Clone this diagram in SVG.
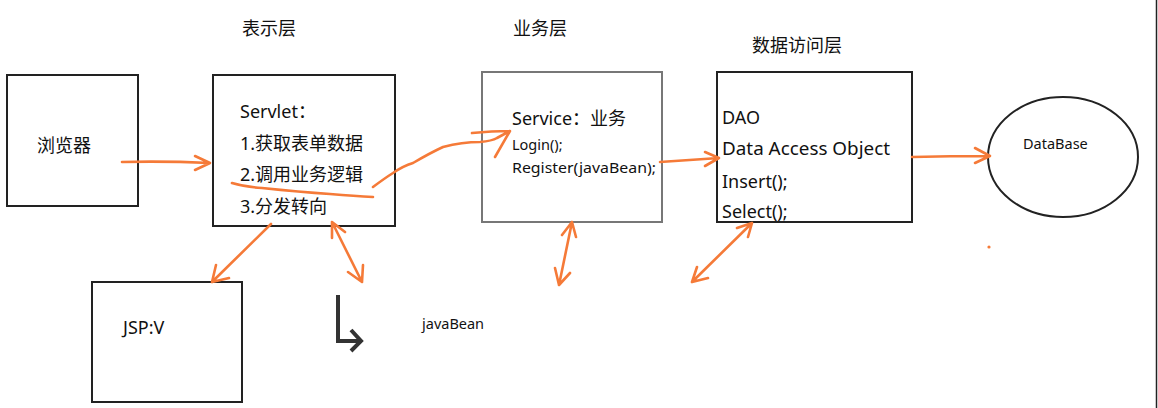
<svg xmlns="http://www.w3.org/2000/svg" width="1158" height="408" viewBox="0 0 1158 408">
<style>
.box{fill:none;stroke:#222;stroke-width:2}
.gbox{fill:none;stroke:#777;stroke-width:2}
.t{font-family:"Noto Sans","Noto Sans CJK SC",sans-serif;fill:#111}
.l{font-size:18px}
.s{font-size:14.5px}
.ink{fill:none;stroke:#F57A38;stroke-width:2.6;stroke-linecap:round;stroke-linejoin:round}
</style>
<rect width="1158" height="408" fill="#fff"/>
<line x1="1156.5" y1="0" x2="1156.5" y2="408" stroke="#222" stroke-width="1.5"/>
<g id="headers">
<text class="t l" x="242" y="35">表示层</text>
<text class="t l" x="513" y="35">业务层</text>
<text class="t l" x="752" y="52">数据访问层</text>
</g>
<g id="browser">
<rect class="box" x="7" y="75" width="131" height="131"/>
<text class="t l" x="37" y="152">浏览器</text>
</g>
<g id="servlet">
<rect class="box" x="213" y="75" width="182" height="151"/>
<text class="t l" x="240" y="118">Servlet：</text>
<text class="t l" x="240" y="150">1.获取表单数据</text>
<text class="t l" x="240" y="181">2.调用业务逻辑</text>
<text class="t l" x="240" y="213">3.分发转向</text>
</g>
<g id="service">
<rect class="gbox" x="482" y="72" width="180" height="150"/>
<text class="t l" x="512" y="125">Service：业务</text>
<text class="t s" x="512" y="150">Login();</text>
<text class="t s" x="512" y="173" textLength="144" lengthAdjust="spacingAndGlyphs">Register(javaBean);</text>
</g>
<g id="dao">
<rect class="box" x="717" y="72" width="195" height="150"/>
<text class="t l" x="722" y="124">DAO</text>
<text class="t l" x="722" y="155" textLength="168" lengthAdjust="spacingAndGlyphs">Data Access Object</text>
<text class="t l" x="722" y="188">Insert();</text>
<text class="t l" x="722" y="218">Select();</text>
</g>
<g id="database">
<ellipse cx="1063" cy="157" rx="75" ry="60" fill="none" stroke="#222" stroke-width="2"/>
<text class="t s" x="1023" y="149">DataBase</text>
</g>
<g id="jsp">
<rect class="box" x="92" y="282" width="150" height="120"/>
<text class="t l" x="123" y="334">JSP:V</text>
</g>
<g id="javabean">
<text class="t s" x="422" y="329">javaBean</text>
<path d="M338 295 V341 H361 M351 330 L361 341 L351 351" fill="none" stroke="#333" stroke-width="4"/>
</g>
<g id="connectors">
<path class="ink" d="M122 162 Q165 161 210 163 M195 156 L210 163 L195 170"/>
<path class="ink" d="M232 183 Q245 187 262 188 Q300 192 330 194 Q355 196 373 197"/>
<path class="ink" d="M373 187 Q385 178 393 173 Q403 166 413 163 Q430 153 443 147 Q462 142 480 142 Q492 141 497 138 L510 131 M472 133 Q492 131 510 131 L495 157"/>
<path class="ink" d="M660 162 Q690 160 719 158 M705 152 L719 158 L705 166"/>
<path class="ink" d="M912 157 Q950 156 990 156 M975 148 L990 156 L975 163"/>
<path class="ink" d="M271 224 L212 282 M216 265 L212 282 L229 278"/>
<path class="ink" d="M332 222 L362 282 M332 238 L332 222 L345 232 M348 272 L362 282 L363 265"/>
<path class="ink" d="M572 222 L559 285 M562 235 L572 222 L576 237 M555 268 L559 285 L570 273"/>
<path class="ink" d="M752 223 L692 282 M737 228 L752 223 L748 237 M697 267 L692 282 L708 278"/>
<circle cx="989" cy="247" r="1.6" fill="#F57A38"/>
</g>
</svg>
